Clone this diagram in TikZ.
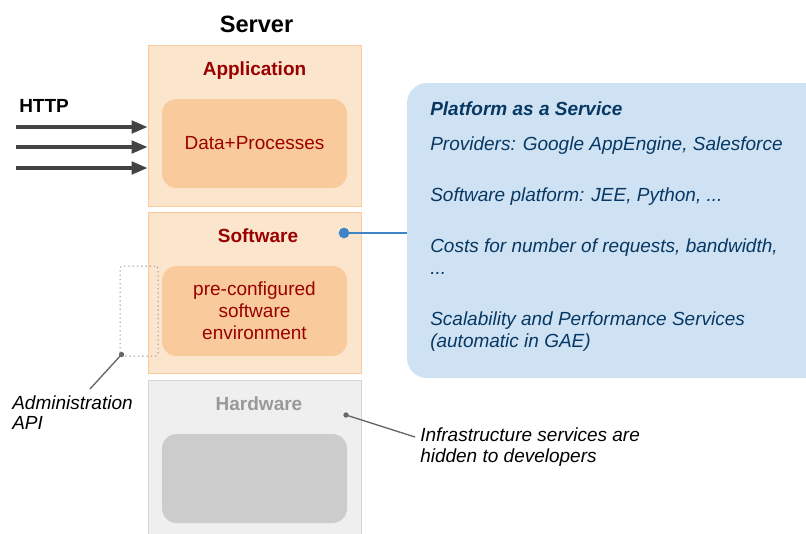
\documentclass[tikz,border=0pt]{standalone}
\usepackage{fontspec}
\setmainfont{Liberation Sans}
\usetikzlibrary{arrows.meta}

\definecolor{appfill}{HTML}{FCE5CD}
\definecolor{appline}{HTML}{F9CB9C}
\definecolor{corefill}{HTML}{F9CB9C}
\definecolor{appred}{HTML}{990000}
\definecolor{hwfill}{HTML}{EFEFEF}
\definecolor{hwline}{HTML}{D5D5D5}
\definecolor{hwcore}{HTML}{CCCCCC}
\definecolor{hwtext}{HTML}{999999}
\definecolor{paasfill}{HTML}{CFE2F3}
\definecolor{paastext}{HTML}{073763}
\definecolor{blueline}{HTML}{3D85C6}
\definecolor{arrowgray}{HTML}{434343}
\definecolor{pingray}{HTML}{666666}
\definecolor{dotgray}{HTML}{999999}

\begin{document}
\begin{tikzpicture}[x=0.75pt,y=-0.75pt,
  font=\fontsize{14.25}{16.5}\selectfont,
  lbl/.style={inner sep=0pt, text height=9.8pt, text depth=0pt},
  layer/.style={rectangle, line width=0.75pt, minimum width=159.75pt,
    minimum height=120.75pt, inner sep=0pt},
  core/.style={rectangle, rounded corners=11pt, minimum width=138.75pt,
    minimum height=66.75pt, inner sep=0pt, align=center},
  heading/.style={lbl, font=\fontsize{14.25}{16.5}\selectfont\bfseries},
  note/.style={lbl, anchor=west, font=\fontsize{14.25}{16.5}\selectfont\itshape},
  httparrow/.style={draw=arrowgray, line width=2.4pt,
    -{Triangle[length=12pt,width=9.5pt]}},
  pin/.style={draw=pingray, line width=1pt},
  pindot/.style={circle, fill=pingray, inner sep=0pt, minimum size=4pt},
  bluepin/.style={draw=blueline, line width=1.9pt},
  bluedot/.style={circle, fill=blueline, inner sep=0pt, minimum size=8pt},
]
\useasboundingbox (0,0) rectangle (806,533);
\clip (0,0) rectangle (806,533);

% server title
\node[lbl, text height=12.2pt, font=\fontsize{17.7}{21}\selectfont\bfseries] (server) at (256.5,24.5) {Server};

% application layer
\node[layer, fill=appfill, draw=appline] (app) at (254.5,125.5) {};
\node[heading, text=appred] (apptitle) at (254.5,69) {Application};
\node[core, fill=corefill, text=appred] (data) at (254.5,143.5) {Data+Processes};

% software layer
\node[layer, fill=appfill, draw=appline] (soft) at (254.5,292.5) {};
\node[heading, text=appred] (softtitle) at (258,236) {Software};
\node[core, fill=corefill, text=appred, minimum height=67.5pt] (env) at (254.5,311)
  {pre-configured\\software\\environment};

% hardware layer
\node[layer, fill=hwfill, draw=hwline, minimum height=123.75pt] (hw) at (254.5,462.5) {};
\node[heading, text=hwtext] (hwtitle) at (259,404) {Hardware};
\node[core, fill=hwcore] (hwbox) at (254.5,478.5) {};

% HTTP requests
\node[heading, anchor=west] (http) at (19,106) {HTTP};
\coordinate (h1) at (16,127);
\coordinate (h2) at (16,147);
\coordinate (h3) at (16,168);
\draw[httparrow] (h1) -- (h1 -| app.west);
\draw[httparrow] (h2) -- (h2 -| app.west);
\draw[httparrow] (h3) -- (h3 -| app.west);

% PaaS callout
\node[rectangle, rounded corners=15pt, fill=paasfill, minimum width=317.25pt,
  minimum height=221.25pt, inner sep=0pt] (paas) at (618.5,230.5) {};
\node[note, text=paastext, font=\fontsize{14.25}{16.5}\selectfont\bfseries\itshape]
  (p0) at (430,109) {Platform as a Service};
\node[note, text=paastext] (p1) at (430,144) {Providers: Google AppEngine, Salesforce};
\node[note, text=paastext] (p2) at (430,194.5) {Software platform: JEE, Python, ...};
\node[note, text=paastext] (p3) at (430,246) {Costs for number of requests, bandwidth,};
\node[note, text=paastext] (p4) at (430,267.5) {...};
\node[note, text=paastext] (p5) at (430,318.5) {Scalability and Performance Services};
\node[note, text=paastext] (p6) at (430,340.5) {(automatic in GAE)};

\coordinate (softdot) at (344,233);
\draw[bluepin] (softdot) -- (softdot -| paas.west);
\node[bluedot] (softdotmark) at (softdot) {};

% administration API
\node[rectangle, draw=dotgray, line width=0.75pt, dash pattern=on 1pt off 2.2pt,
  rounded corners=2pt, minimum width=28.5pt, minimum height=67.5pt, inner sep=0pt]
  (api) at (139,311) {};
\coordinate (apidot) at ([shift={(2,-2)}]api.south west);
\coordinate (apiend) at (90,389);
\draw[pin] (apidot) -- (apiend);
\node[pindot] (apidotmark) at (apidot) {};
\node[note] (adm1) at (12,403) {Administration};
\node[note] (adm2) at (12,423) {API};

% hidden infrastructure
\coordinate (hwdot) at (346,415);
\coordinate (hwend) at (415,437);
\draw[pin] (hwdot) -- (hwend);
\node[pindot] (hwdotmark) at (hwdot) {};
\node[note] (inf1) at (420,435) {Infrastructure services are};
\node[note] (inf2) at (420,456) {hidden to developers};
\end{tikzpicture}
\end{document}
